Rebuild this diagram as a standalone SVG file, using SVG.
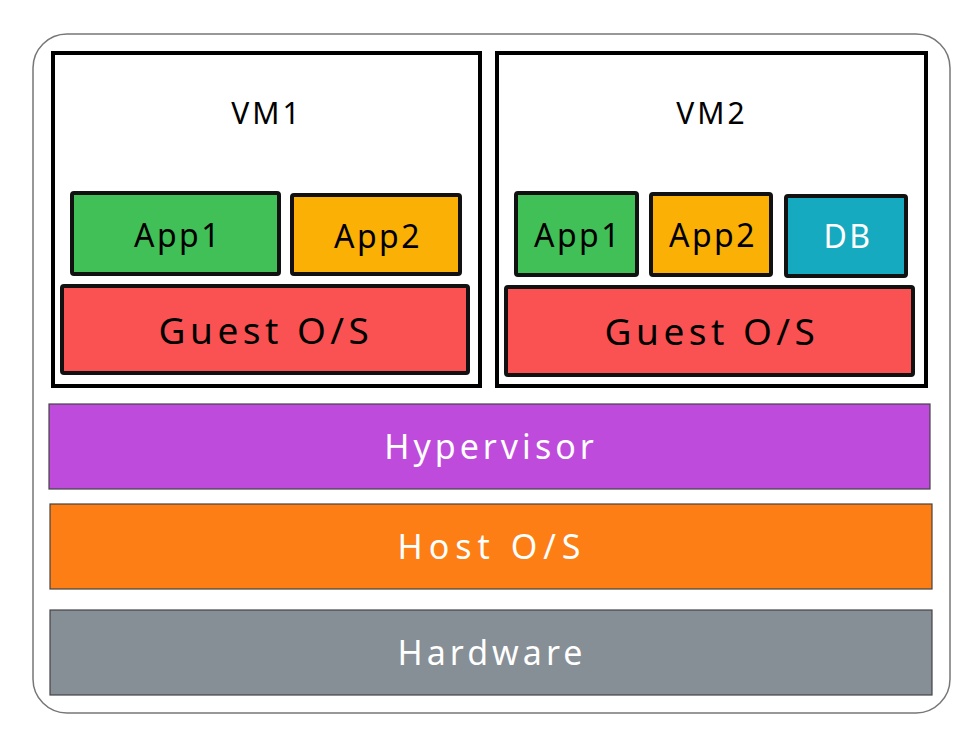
<svg xmlns="http://www.w3.org/2000/svg" width="980" height="740" viewBox="0 0 980 740">
<style>
.vm{fill:#ffffff;stroke:#000000;stroke-width:4}
.box{stroke:#111111;stroke-width:4}
.bar{stroke:#444444;stroke-width:1.2}
.t{font-family:"Noto Sans","DejaVu Sans",sans-serif;text-anchor:middle;dominant-baseline:central}
.dk{fill:#000000}
.wh{fill:#ffffff}
.vml{font-size:30px;letter-spacing:3px}
.app{font-size:32px;letter-spacing:2.5px}
.gos{font-size:37px;letter-spacing:4.5px}
.lay{font-size:34px;letter-spacing:4px}
</style>
<rect width="980" height="740" fill="#ffffff"/>
<g id="frame"><rect x="33" y="34" width="917" height="679" rx="34" fill="#ffffff" stroke="#777777" stroke-width="1.5"/></g>
<g id="vm1">
<rect class="vm" x="53" y="53" width="427" height="333"/>
<text class="t dk vml" x="267" y="112">VM1</text>
</g>
<g id="vm1-app1"><rect class="box" x="72" y="193" width="207" height="81" rx="2" fill="#40c057"/><text class="t dk app" x="178" y="234">App1</text></g>
<g id="vm1-app2"><rect class="box" x="292" y="195" width="168" height="79" rx="2" fill="#fab005"/><text class="t dk app" x="378" y="235">App2</text></g>
<g id="vm1-guest"><rect class="box" x="62" y="286" width="406" height="87" rx="2" fill="#fa5252"/><text class="t dk gos" x="266" y="329">Guest O/S</text></g>
<g id="vm2">
<rect class="vm" x="497" y="53" width="429" height="333"/>
<text class="t dk vml" x="712" y="112">VM2</text>
</g>
<g id="vm2-app1"><rect class="box" x="516" y="193" width="121" height="82" rx="2" fill="#40c057"/><text class="t dk app" x="578" y="234">App1</text></g>
<g id="vm2-app2"><rect class="box" x="651" y="194" width="120" height="81" rx="2" fill="#fab005"/><text class="t dk app" x="713" y="234">App2</text></g>
<g id="vm2-db"><rect class="box" x="786" y="196" width="120" height="80" rx="2" fill="#15aabf"/><text class="t wh app" x="848" y="235">DB</text></g>
<g id="vm2-guest"><rect class="box" x="506" y="287" width="407" height="88" rx="2" fill="#fa5252"/><text class="t dk gos" x="712" y="330">Guest O/S</text></g>
<g id="hypervisor"><rect class="bar" x="49" y="404" width="881" height="85" fill="#be4bdb"/><text class="t wh lay" x="491" y="446">Hypervisor</text></g>
<g id="hostos"><rect class="bar" x="50" y="504" width="882" height="85" fill="#fd7e14"/><text class="t wh lay" x="492" y="546" style="letter-spacing:6px">Host O/S</text></g>
<g id="hardware"><rect class="bar" x="50" y="610" width="882" height="85" fill="#868e96"/><text class="t wh lay" x="492" y="652">Hardware</text></g>
<g id="connectors"></g>
</svg>
